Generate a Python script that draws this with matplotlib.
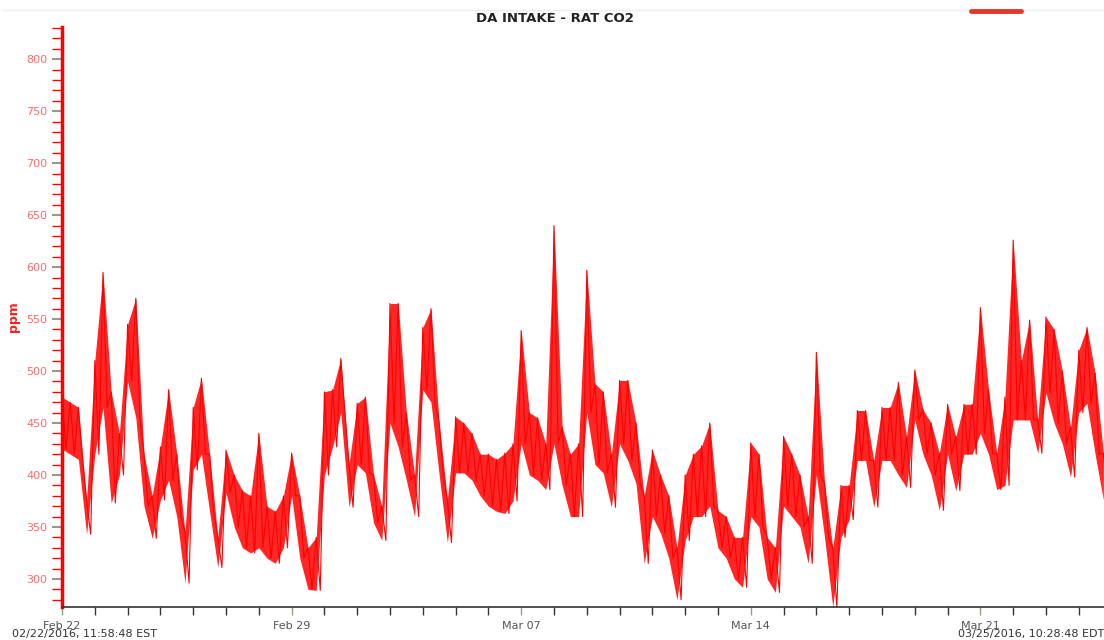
import datetime as dt
import matplotlib
matplotlib.use("Agg")
import matplotlib.pyplot as plt
import matplotlib.dates as mdates
from matplotlib.lines import Line2D

# upper / lower envelope of the CO2 reading, one pair every 6 hours from Feb 22 00:00
co2_hi = [475, 470, 465, 375, 510, 595, 480, 440, 545, 570,
          420, 380, 427, 482, 420, 345, 465, 493, 420, 340,
          424, 400, 385, 380, 440, 370, 365, 380, 421, 380,
          330, 340, 480, 482, 512, 410, 469, 475, 400, 370,
          565, 565, 460, 400, 542, 560, 450, 376, 456, 450,
          440, 420, 420, 415, 421, 430, 539, 460, 455, 430,
          640, 446, 420, 430, 597, 488, 480, 420, 491, 491,
          450, 380, 424, 400, 380, 330, 400, 420, 428, 450,
          366, 360, 340, 340, 431, 420, 340, 330, 437, 420,
          400, 360, 518, 392, 330, 390, 390, 462, 462, 414,
          465, 465, 489, 437, 501, 463, 450, 421, 468, 437,
          468, 468, 561, 482, 421, 475, 626, 510, 549, 453,
          552, 540, 500, 446, 520, 542, 498, 421]
co2_lo = [425, 420, 415, 343, 420, 465, 373, 400, 490, 455,
          370, 339, 376, 395, 360, 296, 405, 420, 365, 311,
          383, 350, 330, 325, 330, 320, 315, 330, 380, 320,
          290, 289, 400, 427, 460, 369, 410, 402, 354, 337,
          450, 427, 395, 360, 482, 470, 400, 335, 402, 402,
          395, 380, 370, 365, 363, 375, 430, 400, 395, 386,
          430, 390, 360, 360, 460, 410, 402, 369, 430, 414,
          392, 315, 360, 344, 320, 280, 337, 360, 360, 370,
          330, 320, 300, 292, 360, 350, 300, 287, 370, 360,
          350, 315, 400, 340, 273, 340, 357, 414, 414, 369,
          414, 414, 400, 388, 453, 420, 400, 366, 420, 385,
          420, 420, 440, 420, 386, 390, 453, 453, 453, 421,
          479, 450, 430, 398, 460, 469, 420, 376]

start = dt.datetime(2016, 2, 22)
t6 = [start + dt.timedelta(hours=6 * i) for i in range(len(co2_hi))]
times, values = [], []
for i in range(len(co2_hi)):
    times.append(t6[i])
    values.append(co2_hi[i])
    times.append(t6[i] + dt.timedelta(hours=3))
    values.append(co2_lo[i])

fig = plt.figure(figsize=(11.04, 6.4), dpi=100)
ax = fig.add_axes([62 / 1104, 1 - 607 / 640, 1 - 62 / 1104, 580 / 640])

ax.fill_between(t6, co2_lo, co2_hi, color="#ff0000", lw=0, alpha=0.85)
ax.plot(times, values, color="#ff0000", lw=0.8)

ax.set_xlim(start, start + dt.timedelta(days=31.77))
ax.set_ylim(273, 831)

ax.yaxis.set_major_locator(plt.MultipleLocator(50))
ax.yaxis.set_minor_locator(plt.MultipleLocator(10))
ax.xaxis.set_major_locator(mdates.WeekdayLocator(byweekday=mdates.MO))
ax.xaxis.set_minor_locator(mdates.DayLocator())
ax.xaxis.set_major_formatter(mdates.DateFormatter("%b %d"))

for s in ["top", "right"]:
    ax.spines[s].set_visible(False)
ax.spines["left"].set_color("#ff0000")
ax.spines["left"].set_linewidth(2.5)
ax.spines["bottom"].set_color("#333333")
ax.spines["bottom"].set_linewidth(1.2)

ax.tick_params(axis="y", which="both", length=7, width=1, color="#ff0000",
               labelcolor="#ff6a6a", labelsize=8)
ax.tick_params(axis="y", which="major", color="#8fa08a", width=1.5)
ax.tick_params(axis="x", which="both", length=6, width=1, color="#333333",
               labelcolor="#555555", labelsize=8, pad=4)
ax.tick_params(axis="x", which="major", color="#8fa08a")
ax.set_ylabel("ppm", color="#ff2020", fontsize=9, fontweight="bold", labelpad=6)
ax.yaxis.set_label_coords(-0.04, 0.5)

fig.text(555 / 1104, 1 - 18 / 640, "DA INTAKE - RAT CO2", ha="center", va="center",
         fontsize=9.5, fontweight="bold", color="#222222")
fig.add_artist(Line2D([0.003, 1], [1 - 10 / 640] * 2, color="#eeeeee", lw=1))
fig.add_artist(Line2D([971 / 1104, 1021 / 1104], [1 - 11 / 640] * 2,
                      color="#e8352a", lw=3.5, solid_capstyle="round"))

fig.text(12 / 1104, 1 - 634 / 640, "02/22/2016, 11:58:48 EST", ha="left", va="center",
         fontsize=8, color="#333333")
fig.text(1, 1 - 634 / 640, "03/25/2016, 10:28:48 EDT", ha="right", va="center",
         fontsize=8, color="#333333")

fig.savefig("out.png", dpi=100)
